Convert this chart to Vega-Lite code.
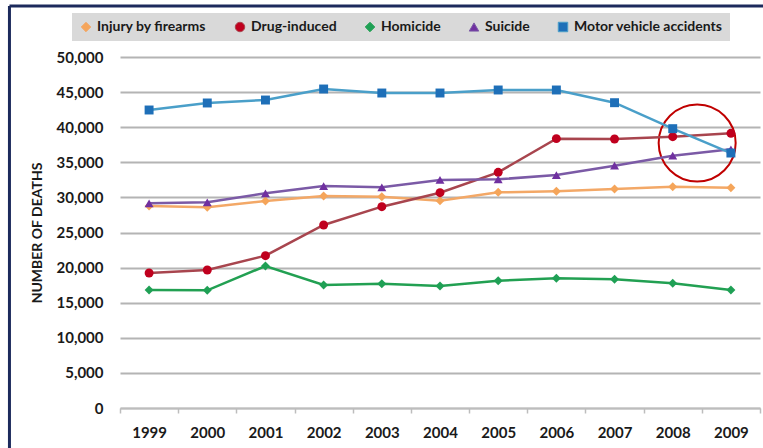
{
  "$schema": "https://vega.github.io/schema/vega-lite/v6.json",
  "width": 640,
  "height": 351,
  "autosize": {"type": "none"},
  "padding": {"left": 120, "top": 57, "right": 3, "bottom": 40},
  "background": "white",
  "config": {
    "view": {"stroke": null},
    "font": "Lato"
  },
  "datasets": {
    "deaths": [
      {"year": 1999, "series": "Injury by firearms", "deaths": 28770},
      {"year": 2000, "series": "Injury by firearms", "deaths": 28590},
      {"year": 2001, "series": "Injury by firearms", "deaths": 29490},
      {"year": 2002, "series": "Injury by firearms", "deaths": 30200},
      {"year": 2003, "series": "Injury by firearms", "deaths": 30100},
      {"year": 2004, "series": "Injury by firearms", "deaths": 29530},
      {"year": 2005, "series": "Injury by firearms", "deaths": 30720},
      {"year": 2006, "series": "Injury by firearms", "deaths": 30870},
      {"year": 2007, "series": "Injury by firearms", "deaths": 31200},
      {"year": 2008, "series": "Injury by firearms", "deaths": 31530},
      {"year": 2009, "series": "Injury by firearms", "deaths": 31380},
      {"year": 1999, "series": "Drug-induced", "deaths": 19230},
      {"year": 2000, "series": "Drug-induced", "deaths": 19660},
      {"year": 2001, "series": "Drug-induced", "deaths": 21700},
      {"year": 2002, "series": "Drug-induced", "deaths": 26070},
      {"year": 2003, "series": "Drug-induced", "deaths": 28680},
      {"year": 2004, "series": "Drug-induced", "deaths": 30670},
      {"year": 2005, "series": "Drug-induced", "deaths": 33570},
      {"year": 2006, "series": "Drug-induced", "deaths": 38370},
      {"year": 2007, "series": "Drug-induced", "deaths": 38320},
      {"year": 2008, "series": "Drug-induced", "deaths": 38650},
      {"year": 2009, "series": "Drug-induced", "deaths": 39130},
      {"year": 1999, "series": "Homicide", "deaths": 16810},
      {"year": 2000, "series": "Homicide", "deaths": 16760},
      {"year": 2001, "series": "Homicide", "deaths": 20230},
      {"year": 2002, "series": "Homicide", "deaths": 17520},
      {"year": 2003, "series": "Homicide", "deaths": 17710},
      {"year": 2004, "series": "Homicide", "deaths": 17380},
      {"year": 2005, "series": "Homicide", "deaths": 18140},
      {"year": 2006, "series": "Homicide", "deaths": 18470},
      {"year": 2007, "series": "Homicide", "deaths": 18330},
      {"year": 2008, "series": "Homicide", "deaths": 17760},
      {"year": 2009, "series": "Homicide", "deaths": 16810},
      {"year": 1999, "series": "Suicide", "deaths": 29160},
      {"year": 2000, "series": "Suicide", "deaths": 29300},
      {"year": 2001, "series": "Suicide", "deaths": 30580},
      {"year": 2002, "series": "Suicide", "deaths": 31620},
      {"year": 2003, "series": "Suicide", "deaths": 31440},
      {"year": 2004, "series": "Suicide", "deaths": 32480},
      {"year": 2005, "series": "Suicide", "deaths": 32570},
      {"year": 2006, "series": "Suicide", "deaths": 33190},
      {"year": 2007, "series": "Suicide", "deaths": 34520},
      {"year": 2008, "series": "Suicide", "deaths": 35940},
      {"year": 2009, "series": "Suicide", "deaths": 36850},
      {"year": 1999, "series": "Motor vehicle accidents", "deaths": 42450},
      {"year": 2000, "series": "Motor vehicle accidents", "deaths": 43450},
      {"year": 2001, "series": "Motor vehicle accidents", "deaths": 43870},
      {"year": 2002, "series": "Motor vehicle accidents", "deaths": 45440},
      {"year": 2003, "series": "Motor vehicle accidents", "deaths": 44870},
      {"year": 2004, "series": "Motor vehicle accidents", "deaths": 44870},
      {"year": 2005, "series": "Motor vehicle accidents", "deaths": 45300},
      {"year": 2006, "series": "Motor vehicle accidents", "deaths": 45300},
      {"year": 2007, "series": "Motor vehicle accidents", "deaths": 43490},
      {"year": 2008, "series": "Motor vehicle accidents", "deaths": 39790},
      {"year": 2009, "series": "Motor vehicle accidents", "deaths": 36320}
    ],
    "gridlines": [
      {"deaths": 5000}, {"deaths": 10000}, {"deaths": 15000}, {"deaths": 20000}, {"deaths": 25000},
      {"deaths": 30000}, {"deaths": 35000}, {"deaths": 40000}, {"deaths": 45000}, {"deaths": 50000}
    ],
    "annotations": [
      {"year": 2008.42, "deaths": 37750}
    ],
    "frameTop": [
      {"year": 1996.6, "year2": 2009.7, "deaths": 57265}
    ],
    "frameLeft": [
      {"year": 1996.6, "deaths": 57265, "deaths2": -6000}
    ]
  },
  "encoding": {
    "x": {
      "field": "year",
      "type": "quantitative",
      "title": null,
      "scale": {"domain": [1998.5, 2009.5], "nice": false, "zero": false}
    },
    "y": {
      "field": "deaths",
      "type": "quantitative",
      "title": "NUMBER OF DEATHS",
      "scale": {"domain": [0, 50000], "nice": false, "zero": true}
    }
  },
  "layer": [
    {
      "layer": [
        {
          "data": {"name": "gridlines"},
          "mark": {"type": "rule", "color": "#b4b4b4", "strokeWidth": 2},
          "encoding": {
            "x": {"datum": 1998.41, "type": "quantitative"},
            "x2": {"datum": 2009.5}
          }
        },
        {
          "data": {"name": "annotations"},
          "mark": {"type": "point", "shape": "circle", "filled": false, "size": 5929, "stroke": "#C00000", "strokeWidth": 2, "opacity": 1},
          "encoding": {}
        },
        {
          "data": {"name": "frameTop"},
          "mark": {"type": "rule", "color": "#1C2A5C", "strokeWidth": 3},
          "encoding": {
            "x2": {"field": "year2"}
          }
        },
        {
          "data": {"name": "frameLeft"},
          "mark": {"type": "rule", "color": "#1C2A5C", "strokeWidth": 3},
          "encoding": {
            "y2": {"field": "deaths2"}
          }
        }
      ],
      "encoding": {
        "x": {
          "field": "year",
          "type": "quantitative",
          "axis": {
            "values": [1998.5, 1999.5, 2000.5, 2001.5, 2002.5, 2003.5, 2004.5, 2005.5, 2006.5, 2007.5, 2008.5, 2009.5],
            "orient": "bottom",
            "labels": false,
            "domain": false,
            "grid": false,
            "ticks": true,
            "tickColor": "#bdbdbd",
            "tickWidth": 1.5,
            "tickSize": 5,
            "title": null
          }
        },
        "y": {
          "field": "deaths",
          "type": "quantitative",
          "axis": null
        }
      }
    },
    {
      "data": {"name": "deaths"},
      "layer": [
        {
          "mark": {"type": "line", "strokeWidth": 2.5},
          "encoding": {
            "stroke": {
              "field": "series",
              "type": "nominal",
              "scale": {
                "domain": ["Injury by firearms", "Drug-induced", "Homicide", "Suicide", "Motor vehicle accidents"],
                "range": ["#F3A867", "#A8454E", "#22A052", "#7B5AA6", "#4A9FC9"]
              },
              "legend": {
                "title": null,
                "orient": "none",
                "legendX": -48,
                "legendY": -44,
                "direction": "horizontal",
                "fillColor": "#d9d9d9",
                "padding": 7,
                "columnPadding": 26,
                "labelFont": "Lato",
                "labelFontWeight": "bold",
                "labelFontSize": 14,
                "labelColor": "#1a1a1a",
                "labelOffset": 4,
                "symbolSize": 90,
                "symbolStrokeWidth": 1
              }
            }
          }
        },
        {
          "mark": {"type": "point", "filled": true, "size": 80, "opacity": 1},
          "encoding": {
            "fill": {
              "field": "series",
              "type": "nominal",
              "scale": {
                "domain": ["Injury by firearms", "Drug-induced", "Homicide", "Suicide", "Motor vehicle accidents"],
                "range": ["#F5A55A", "#C0001E", "#1FA055", "#7030A0", "#1E6FB8"]
              },
              "legend": {
                "title": null,
                "orient": "none",
                "legendX": -48,
                "legendY": -44,
                "direction": "horizontal",
                "fillColor": "#d9d9d9",
                "padding": 7,
                "columnPadding": 26,
                "labelFont": "Lato",
                "labelFontWeight": "bold",
                "labelFontSize": 14,
                "labelColor": "#1a1a1a",
                "labelOffset": 4,
                "symbolSize": 90,
                "symbolStrokeWidth": 1
              }
            },
            "shape": {
              "field": "series",
              "type": "nominal",
              "scale": {
                "domain": ["Injury by firearms", "Drug-induced", "Homicide", "Suicide", "Motor vehicle accidents"],
                "range": ["diamond", "circle", "diamond", "triangle-up", "square"]
              },
              "legend": {
                "title": null,
                "orient": "none",
                "legendX": -48,
                "legendY": -44,
                "direction": "horizontal",
                "fillColor": "#d9d9d9",
                "padding": 7,
                "columnPadding": 26,
                "labelFont": "Lato",
                "labelFontWeight": "bold",
                "labelFontSize": 14,
                "labelColor": "#1a1a1a",
                "labelOffset": 4,
                "symbolSize": 90,
                "symbolStrokeWidth": 1
              }
            }
          }
        }
      ],
      "encoding": {
        "x": {
          "field": "year",
          "type": "quantitative",
          "axis": {
            "values": [1999, 2000, 2001, 2002, 2003, 2004, 2005, 2006, 2007, 2008, 2009],
            "format": "d",
            "orient": "bottom",
            "labelAngle": 0,
            "ticks": false,
            "domainColor": "#bdbdbd",
            "domainWidth": 1.5,
            "grid": false,
            "labelFont": "Lato",
            "labelFontWeight": "bold",
            "labelFontSize": 15,
            "labelColor": "#1a1a1a",
            "labelPadding": 17
          }
        },
        "y": {
          "field": "deaths",
          "type": "quantitative",
          "axis": {
            "values": [0, 5000, 10000, 15000, 20000, 25000, 30000, 35000, 40000, 45000, 50000],
            "format": ",.0f",
            "orient": "left",
            "grid": true,
            "gridColor": "#b4b4b4",
            "gridWidth": 2,
            "domain": false,
            "ticks": false,
            "labelFont": "Lato",
            "labelFontWeight": "bold",
            "labelFontSize": 15,
            "labelColor": "#1a1a1a",
            "labelPadding": 17,
            "titleFont": "Lato",
            "titleFontWeight": "bold",
            "titleFontSize": 14,
            "titleColor": "#1a1a1a",
            "titlePadding": 11
          }
        }
      }
    }
  ],
  "resolve": {"axis": {"x": "independent", "y": "independent"}}
}
